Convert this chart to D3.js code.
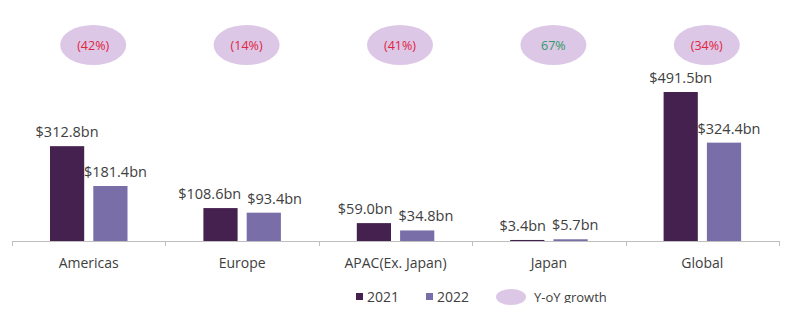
<!DOCTYPE html>
<html><head><meta charset="utf-8">
<script src="https://cdn.jsdelivr.net/npm/d3@7"></script>
<style>body{margin:0;background:#fff}svg{display:block}</style>
</head><body>
<svg id="c" width="792" height="323"></svg>
<script>
const categories = ["Americas","Europe","APAC(Ex. Japan)","Japan","Global"];
const values2021 = [312.8,108.6,59.0,3.4,491.5];
const values2022 = [181.4,93.4,34.8,5.7,324.4];
const growthLabels = ["(42%)","(14%)","(41%)","67%","(34%)"];
const seriesNames = ["2021","2022"];

const colors = {"2021":"#45214f","2022":"#7a6ea9"};
const svg = d3.select("#c");
const font = "'Open Sans', sans-serif";
const baseY = 241;

const x = d3.scaleBand().domain(categories).range([12,779]);
const xs = d3.scaleBand().domain(seriesNames).range([38, 115.5]).paddingInner(0.21);
const y = d3.scaleLinear().domain([0,491.5]).range([baseY,92]);

const data = categories.map((c,i)=>({c, v:{"2021":values2021[i],"2022":values2022[i]}, g:growthLabels[i]}));

// bars
const groups = svg.selectAll("g.cat").data(data).join("g").attr("class","cat")
  .attr("transform", d=>`translate(${x(d.c)},0)`);
groups.selectAll("rect").data(d=>seriesNames.map(s=>({s, v:d.v[s]}))).join("rect")
  .attr("x", d=>xs(d.s)).attr("width", xs.bandwidth())
  .attr("y", d=>y(d.v)).attr("height", d=>baseY - y(d.v))
  .attr("fill", d=>colors[d.s]);

// value labels with simple collision avoidance
groups.each(function(d){
  const g = d3.select(this);
  const labels = seriesNames.map(s=>{
    const t = g.append("text")
      .attr("text-anchor","middle").attr("font-family",font).attr("font-size","14.5px")
      .attr("fill","#404040").text("$"+d.v[s].toFixed(1)+"bn");
    const cx = xs(s)+xs.bandwidth()/2;
    const ty = Math.min(y(d.v[s]) - 9, baseY - 7);
    return {t, cx, ty, w: t.node().getComputedTextLength(), s};
  });
  const [a,b] = labels;
  let da = 0, db = 5;
  if (Math.abs(a.ty - b.ty) < 16) {
    const overlap = (a.cx + a.w/2) - (b.cx - b.w/2) + 4;
    if (overlap > 0) { da = -overlap/2 - 1; db = overlap/2 + 1; }
  }
  a.t.attr("x", a.cx + da).attr("y", a.ty);
  b.t.attr("x", b.cx + db).attr("y", b.ty);
});

// growth ellipses
groups.append("ellipse").attr("cx", x.bandwidth()/2+4.5).attr("cy",45).attr("rx",33).attr("ry",20)
  .attr("fill","#dcc7e6");
groups.append("text").attr("x", x.bandwidth()/2+4.5).attr("y",50)
  .attr("text-anchor","middle").attr("font-family",font).attr("font-size","12.5px")
  .attr("fill", d=>d.g.startsWith("(")?"#e0243f":"#2f9a68").text(d=>d.g);

// axis
const axis = svg.append("g").attr("transform",`translate(0,${baseY})`);
axis.append("line").attr("x1",12).attr("x2",779).attr("y1",0.5).attr("y2",0.5).attr("stroke","#bfbfbf");
const ticks = categories.map(c=>x(c)).concat([x.range()[1]]);
axis.selectAll("line.t").data(ticks).join("line").attr("class","t")
  .attr("x1",d=>Math.round(d)+0.5).attr("x2",d=>Math.round(d)+0.5).attr("y1",0).attr("y2",5).attr("stroke","#bfbfbf");
axis.selectAll("text").data(categories).join("text")
  .attr("x", d=>x(d)+x.bandwidth()/2).attr("y",27)
  .attr("text-anchor","middle").attr("font-family",font).attr("font-size","14px")
  .attr("fill","#404040").text(d=>d);

// legend
const lg = svg.append("g");
const legendItems = [{s:"2021",x:356},{s:"2022",x:426}];
lg.selectAll("rect").data(legendItems).join("rect")
  .attr("x",d=>d.x).attr("y",293).attr("width",7).attr("height",7).attr("fill",d=>colors[d.s]);
lg.selectAll("text.l").data(legendItems).join("text").attr("class","l")
  .attr("x",d=>d.x+11).attr("y",302).attr("font-family",font).attr("font-size","14px")
  .attr("fill","#404040").text(d=>d.s);
lg.append("ellipse").attr("cx",511).attr("cy",297).attr("rx",15).attr("ry",8).attr("fill","#dcc7e6");
svg.append("clipPath").attr("id","lc").append("rect").attr("x",530).attr("y",285).attr("width",100).attr("height",18);
lg.append("text").attr("x",534).attr("y",302).attr("clip-path","url(#lc)")
  .attr("font-family",font).attr("font-size","13px").attr("fill","#404040").text("Y-oY growth");
</script>
</body></html>
